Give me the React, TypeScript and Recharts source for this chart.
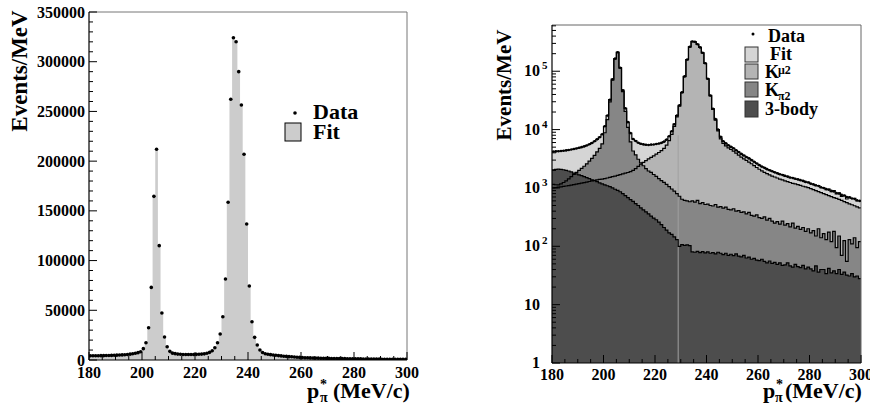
import React from "react";
import { ComposedChart, Area, Line, Scatter, XAxis, YAxis, ReferenceLine } from "recharts";

const SERIF = "'Liberation Serif', 'Times New Roman', Times, serif";

// 1 MeV/c bins, lower edges 180 ... 299
const binLow = 180;

const data = [
  4200, 4230, 4260, 4300, 4350, 4400, 4480, 4560, 4650, 4750, 4870, 5000, 5150, 5350, 5600, 5900, 6300, 6800, 7400, 8300,
  11400, 17400, 32500, 73000, 164600, 212000, 115000, 47300, 23100, 13400,
  8700, 6890, 6390, 5950, 5710, 5570, 5490, 5460, 5530, 5560,
  5670, 5760, 5930, 6210, 6740, 7670, 9370, 12380, 17380, 26120,
  43500, 81500, 158600, 262200, 324100, 320100, 290000, 256400, 206900, 136800,
  74400, 38500, 22800, 15100, 10000, 7500, 6300, 5800, 5380, 5060,
  4780, 4430, 4120, 3830, 3600, 3390, 3210, 3000, 2810, 2630,
  2460, 2320, 2210, 2100, 2010, 1930, 1850, 1780, 1720, 1670,
  1610, 1560, 1510, 1480, 1440, 1400, 1360, 1320, 1270, 1240,
  1185, 1150, 1110, 1080, 1030, 1000, 955, 930, 890, 870,
  820, 800, 760, 740, 700, 690, 660, 645, 615, 600,
];

const kmu2 = [
  1000, 1015, 1030, 1045, 1060, 1080, 1100, 1120, 1140, 1160, 1185, 1210, 1235, 1260, 1290, 1320, 1350, 1380, 1400, 1420,
  1450, 1480, 1520, 1560, 1600, 1640, 1690, 1740, 1790, 1840,
  1900, 2000, 2150, 2350, 2550, 2750, 2950, 3150, 3350, 3550,
  3800, 4050, 4350, 4750, 5400, 6450, 8250, 11350, 16450, 25300,
  42750, 80790, 157890, 261520, 323420, 319450, 289310, 255780, 206260, 136200,
  73790, 37920, 22230, 14510, 9450, 6940, 5780, 5260, 4860, 4560,
  4280, 3950, 3650, 3380, 3150, 2960, 2780, 2600, 2420, 2240,
  2090, 1960, 1850, 1760, 1670, 1600, 1540, 1480, 1420, 1370,
  1320, 1280, 1240, 1200, 1170, 1140, 1110, 1070, 1040, 1010,
  970, 935, 900, 865, 830, 800, 770, 740, 710, 685,
  660, 635, 610, 585, 560, 535, 515, 495, 475, 455,
];

const kpi2 = [
  1150, 1135, 1130, 1175, 1240, 1320, 1430, 1560, 1710, 1850, 2005, 2170, 2355, 2590, 2870, 3200, 3620, 4140, 4780, 5710,
  8820, 14830, 29930, 70440, 162050, 209450, 112450, 44760, 20570, 10880,
  6170, 4300, 3700, 3100, 2700, 2400, 2150, 1950, 1850, 1700,
  1580, 1450, 1340, 1250, 1150, 1050, 960, 880, 800, 720,
  640, 610, 600, 580, 600, 570, 610, 540, 560, 520,
  530, 500, 490, 520, 470, 480, 450, 470, 430, 420,
  440, 400, 410, 380, 390, 360, 380, 340, 330, 345,
  310, 300, 320, 280, 300, 270, 250, 265, 240, 270,
  230, 245, 215, 250, 205, 220, 195, 210, 180, 200,
  170, 185, 150, 200, 140, 165, 130, 175, 120, 180,
  95, 150, 70, 125, 55, 130, 110, 140, 95, 120,
];

const body3 = [
  2050, 2080, 2100, 2080, 2050, 2000, 1950, 1880, 1800, 1740, 1680, 1620, 1560, 1500, 1440, 1380, 1330, 1280, 1220, 1170,
  1130, 1090, 1050, 1000, 950, 910, 860, 800, 740, 680,
  630, 590, 540, 500, 455, 420, 390, 360, 330, 305,
  285, 260, 235, 210, 190, 170, 160, 145, 130, 100,
  107, 104, 106, 103, 80, 79, 82, 78, 81, 77,
  80, 76, 78, 74, 79, 76, 72, 76, 70, 73,
  69, 74, 68, 66, 70, 63, 65, 60, 62, 58,
  57, 60, 55, 52, 56, 51, 53, 49, 52, 47,
  48, 52, 46, 44, 49, 45, 43, 47, 41, 44,
  41, 38, 46, 36, 40, 40, 34, 42, 35, 38,
  34, 40, 33, 36, 32, 31, 34, 30, 31, 28,
];

const xMajor = [180, 200, 220, 240, 260, 280, 300];
const linMajor = [0, 50000, 100000, 150000, 200000, 250000, 300000, 350000];
const logMajor = [1, 10, 100, 1000, 10000, 100000];

const xTicks: number[] = [];
for (let v = 180; v <= 300; v += 5) xTicks.push(v);
const linTicks: number[] = [];
for (let v = 0; v <= 350000; v += 10000) linTicks.push(v);
const logTicks: number[] = [];
logMajor.forEach((d) => {
  for (let k = 1; k <= 9; k++) if (d * k <= 600000) logTicks.push(d * k);
});

const histRows = data.map((_, i) => ({
  x: binLow + i,
  fit: kmu2[i] + kpi2[i] + body3[i],
  kmu2: kmu2[i],
  kpi2: kpi2[i],
  body3: body3[i],
}));
histRows.push({ ...histRows[histRows.length - 1], x: binLow + data.length });
const dataPoints = data.map((v, i) => ({ x: binLow + i + 0.5, v }));

const txt = { style: { fontFamily: SERIF, fontWeight: 700 }, fill: "#000" } as const;

function XTick(props: any) {
  const { x, y, payload, dy } = props;
  const major = xMajor.includes(payload.value);
  return (
    <g>
      <line x1={x} x2={x} y1={y} y2={y - (major ? 8 : 4)} stroke="#000" strokeWidth={1} />
      {major && (
        <text x={x} y={y + dy} textAnchor="middle" fontSize={16} {...txt}>
          {payload.value}
        </text>
      )}
    </g>
  );
}

function LinTick(props: any) {
  const { x, y, payload } = props;
  const major = linMajor.includes(payload.value);
  return (
    <g>
      <line x1={x} x2={x + (major ? 8 : 4)} y1={y} y2={y} stroke="#000" strokeWidth={1} />
      {major && (
        <text x={x - 4} y={y + 5.5} textAnchor="end" fontSize={16} {...txt}>
          {payload.value}
        </text>
      )}
    </g>
  );
}

function LogTick(props: any) {
  const { x, y, payload } = props;
  const v = payload.value;
  const major = logMajor.includes(v);
  const exp = Math.round(Math.log10(v));
  return (
    <g>
      <line x1={x} x2={x + (major ? 8 : 4)} y1={y} y2={y} stroke="#000" strokeWidth={1} />
      {major && (
        <text x={x - 12} y={y + 5} textAnchor="end" fontSize={16} {...txt}>
          {exp < 2 ? String(v) : "10"}
        </text>
      )}
      {major && exp >= 2 && (
        <text x={x - 10} y={y - 2} textAnchor="start" fontSize={11} {...txt}>
          {exp}
        </text>
      )}
    </g>
  );
}

const dot = (r: number) => (p: any) => <circle cx={p.cx} cy={p.cy} r={r} fill="#000" />;

function LeftPanel() {
  return (
    <ComposedChart width={435} height={409} data={histRows} margin={{ top: 12, right: 28, bottom: 48, left: 88 }}>
      <Area type="stepAfter" dataKey="fit" stroke="none" fill="#cccccc" fillOpacity={1} isAnimationActive={false} />
      <Scatter data={dataPoints} dataKey="v" shape={dot(1.8)} isAnimationActive={false} />
      <ReferenceLine y={350000} stroke="#777" strokeWidth={1} />
      <ReferenceLine x={300} stroke="#777" strokeWidth={1} />
      <XAxis
        dataKey="x"
        type="number"
        domain={[180, 300]}
        allowDataOverflow
        ticks={xTicks}
        interval={0}
        height={1}
        tickSize={0}
        tickMargin={0}
        tickLine={false}
        axisLine={{ stroke: "#000", strokeWidth: 1.2 }}
        tick={(p: any) => <XTick {...p} dy={18} />}
      />
      <YAxis
        type="number"
        domain={[0, 350000]}
        allowDataOverflow
        ticks={linTicks}
        interval={0}
        width={1}
        tickSize={0}
        tickMargin={0}
        tickLine={false}
        axisLine={{ stroke: "#000", strokeWidth: 1.2 }}
        tick={(p: any) => <LinTick {...p} />}
      />
    </ComposedChart>
  );
}

function RightPanel() {
  const fills: [string, string][] = [
    ["fit", "#d5d5d5"],
    ["kmu2", "#b4b4b4"],
    ["kpi2", "#868686"],
    ["body3", "#4d4d4d"],
  ];
  return (
    <ComposedChart width={435} height={409} data={histRows} margin={{ top: 25, right: 9, bottom: 45, left: 116 }}>
      {fills.map(([k, c]) => (
        <Area
          key={"a" + k}
          type="stepAfter"
          dataKey={k}
          baseValue={1}
          stroke="none"
          fill={c}
          fillOpacity={1}
          isAnimationActive={false}
        />
      ))}
      <ReferenceLine
        segment={[
          { x: 229, y: 1 },
          { x: 229, y: 8000 },
        ]}
        stroke="#a0a0a0"
        strokeWidth={1}
      />
      {fills.map(([k]) => (
        <Line
          key={"l" + k}
          type="stepAfter"
          dataKey={k}
          stroke="#000"
          strokeWidth={1.2}
          dot={false}
          isAnimationActive={false}
        />
      ))}
      <Scatter data={dataPoints} dataKey="v" shape={dot(1.3)} isAnimationActive={false} />
      <ReferenceLine y={620000} stroke="#666" strokeWidth={1} />
      <ReferenceLine x={300} stroke="#666" strokeWidth={1} />
      <XAxis
        dataKey="x"
        type="number"
        domain={[180, 300]}
        allowDataOverflow
        ticks={xTicks}
        interval={0}
        height={1}
        tickSize={0}
        tickMargin={0}
        tickLine={false}
        axisLine={{ stroke: "#000", strokeWidth: 1.2 }}
        tick={(p: any) => <XTick {...p} dy={17} />}
      />
      <YAxis
        type="number"
        scale="log"
        domain={[1, 620000]}
        allowDataOverflow
        ticks={logTicks}
        interval={0}
        width={1}
        tickSize={0}
        tickMargin={0}
        tickLine={false}
        axisLine={{ stroke: "#000", strokeWidth: 1.2 }}
        tick={(p: any) => <LogTick {...p} />}
      />
    </ComposedChart>
  );
}

function Overlay() {
  const legendBox = (y: number, h: number, fill: string) => (
    <rect x={745} y={y} width={13} height={h} fill={fill} stroke="#333" strokeWidth={1} />
  );
  return (
    <svg width={870} height={409} style={{ position: "absolute", left: 0, top: 0, pointerEvents: "none" }}>
      {/* left panel */}
      <text transform="translate(27,71) rotate(-90)" textAnchor="middle" fontSize={23} {...txt}>
        Events/MeV
      </text>
      <circle cx={295} cy={113} r={1.8} fill="#000" />
      <text x={313} y={119} fontSize={22} {...txt}>Data</text>
      <rect x={285} y={123} width={16} height={18} fill="#cccccc" stroke="#000" strokeWidth={1} />
      <text x={313} y={139} fontSize={22} {...txt}>Fit</text>
      <text x={307} y={398} fontSize={22} {...txt}>p</text>
      <text x={320} y={389} fontSize={14} {...txt}>*</text>
      <text x={320} y={402} fontSize={14} {...txt}>π</text>
      <text x={333} y={398} fontSize={22} {...txt}>(MeV/c)</text>

      {/* right panel */}
      <text transform="translate(511,85) rotate(-90)" textAnchor="middle" fontSize={21} {...txt}>
        Events/MeV
      </text>
      <circle cx={753} cy={34} r={1.5} fill="#000" />
      <text x={768} y={42} fontSize={18} {...txt}>Data</text>
      {legendBox(47, 15, "#d5d5d5")}
      <text x={770} y={60} fontSize={18} {...txt}>Fit</text>
      {legendBox(64, 15, "#b4b4b4")}
      <text x={765} y={78} fontSize={18} {...txt}>K</text>
      <text x={778} y={74} fontSize={12} {...txt}>μ2</text>
      {legendBox(82, 15, "#868686")}
      <text x={765} y={96} fontSize={18} {...txt}>K</text>
      <text x={778} y={100} fontSize={12} {...txt}>π2</text>
      {legendBox(101, 16, "#4d4d4d")}
      <text x={765} y={115} fontSize={18} {...txt}>3-body</text>
      <text x={763} y={398} fontSize={22} {...txt}>p</text>
      <text x={776} y={389} fontSize={14} {...txt}>*</text>
      <text x={775} y={402} fontSize={14} {...txt}>π</text>
      <text x={785} y={398} fontSize={22} {...txt}>(MeV/c)</text>
    </svg>
  );
}

export default function App() {
  return (
    <div
      style={{
        position: "absolute",
        left: 0,
        top: 0,
        width: 870,
        height: 409,
        background: "#fff",
        overflow: "hidden",
        fontFamily: SERIF,
      }}
    >
      <div style={{ position: "absolute", left: 0, top: 0 }}>
        <LeftPanel />
      </div>
      <div style={{ position: "absolute", left: 435, top: 0 }}>
        <RightPanel />
      </div>
      <Overlay />
    </div>
  );
}
